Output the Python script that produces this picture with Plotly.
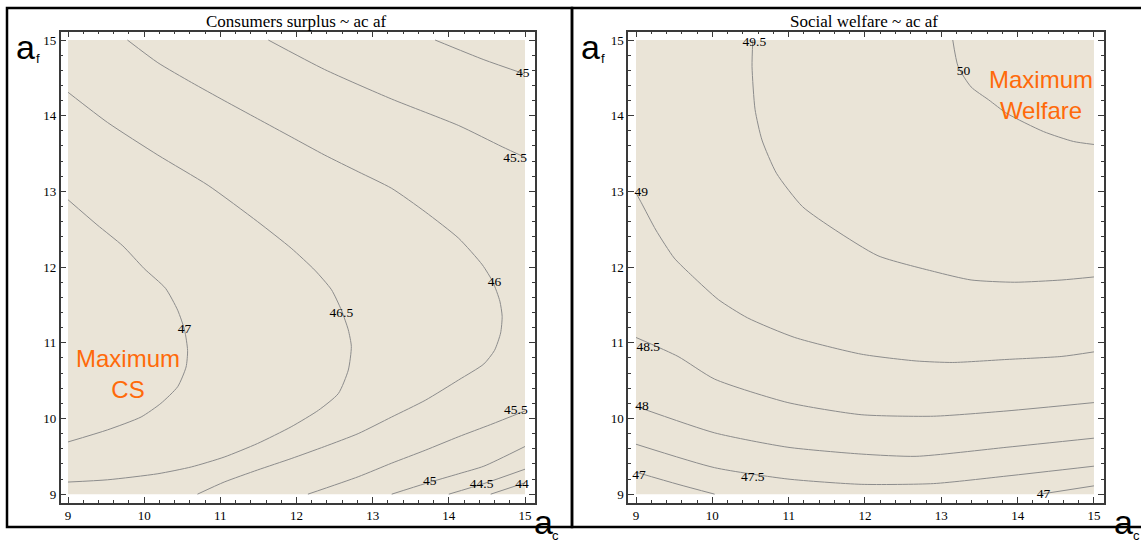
import plotly.graph_objects as go

W, H = 1141, 542

# ---------------- data ----------------
TICKS = [9, 10, 11, 12, 13, 14, 15]

# Consumers surplus contours (x = ac, y = af)
CS_47_AC = [9.0, 9.38, 9.72, 10.0, 10.28, 10.44, 10.53, 10.57, 10.55, 10.44, 10.22, 9.96, 9.52, 9.0]
CS_47_AF = [12.89, 12.56, 12.28, 11.98, 11.72, 11.43, 11.17, 10.90, 10.68, 10.42, 10.20, 10.02, 9.85, 9.69]

CS_465_AC = [9.0, 9.52, 10.18, 10.84, 11.49, 11.93, 12.24, 12.46, 12.59, 12.68, 12.72, 12.68, 12.55, 12.29,
             11.93, 11.49, 11.05, 10.62, 10.18, 9.52, 9.0]
CS_465_AF = [14.31, 13.91, 13.48, 13.08, 12.60, 12.25, 11.96, 11.70, 11.43, 11.17, 10.95, 10.64, 10.33, 10.11,
             9.89, 9.67, 9.49, 9.36, 9.27, 9.19, 9.16]

CS_46_AC = [9.78, 10.18, 10.62, 11.05, 11.49, 11.93, 12.37, 12.81, 13.25, 13.69, 14.13, 14.44, 14.58, 14.67,
            14.70, 14.68, 14.60, 14.46, 14.13, 13.69, 13.25, 12.81, 12.37, 11.93, 11.49, 11.05, 10.70]
CS_46_AF = [15.0, 14.70, 14.44, 14.20, 13.96, 13.72, 13.48, 13.26, 13.04, 12.73, 12.38, 12.03, 11.80, 11.55,
            11.35, 11.13, 10.90, 10.72, 10.51, 10.24, 10.02, 9.80, 9.63, 9.47, 9.32, 9.16, 9.0]

CS_455U_AC = [11.63, 12.37, 13.25, 14.13, 14.70, 15.0]
CS_455U_AF = [15.0, 14.61, 14.22, 13.87, 13.59, 13.45]
CS_455L_AC = [12.15, 12.81, 13.25, 13.69, 14.13, 14.55, 15.0]
CS_455L_AF = [9.0, 9.23, 9.41, 9.58, 9.76, 9.92, 10.10]

CS_45U_AC = [13.82, 14.46, 15.0]
CS_45U_AF = [15.0, 14.74, 14.55]
CS_45L_AC = [13.25, 13.69, 14.13, 14.46, 15.0]
CS_45L_AF = [9.0, 9.14, 9.27, 9.37, 9.63]

CS_445_AC = [14.0, 14.46, 15.0]
CS_445_AF = [9.0, 9.14, 9.33]
CS_44_AC = [14.55, 15.0]
CS_44_AF = [9.0, 9.15]

CS_LABELS = ["47", "46.5", "46", "45", "45.5", "45.5", "45", "44.5", "44"]
CS_LABEL_AC = [10.53, 12.59, 14.60, 14.97, 14.87, 14.88, 13.75, 14.43, 14.96]
CS_LABEL_AF = [11.17, 11.39, 11.79, 14.56, 13.43, 10.11, 9.17, 9.13, 9.12]

# Social welfare contours
SW_50_AC = [13.15, 13.22, 13.39, 13.62, 13.86, 14.34, 14.73, 15.0]
SW_50_AF = [15.0, 14.65, 14.38, 14.21, 14.03, 13.79, 13.66, 13.62]

SW_495_AC = [10.53, 10.52, 10.56, 10.65, 10.84, 11.18, 11.61, 12.17, 12.91, 13.39, 13.96, 14.58, 15.0]
SW_495_AF = [15.0, 14.65, 14.08, 13.68, 13.24, 12.80, 12.49, 12.15, 11.94, 11.83, 11.80, 11.83, 11.87]

SW_49_AC = [9.0, 9.07, 9.26, 9.5, 9.74, 10.08, 10.46, 11.08, 11.95, 12.67, 13.15, 13.86, 14.58, 15.0]
SW_49_AF = [12.98, 12.85, 12.49, 12.12, 11.88, 11.57, 11.33, 11.07, 10.85, 10.76, 10.74, 10.78, 10.82, 10.88]

SW_485_AC = [9.0, 9.55, 10.03, 10.99, 11.95, 12.9, 13.86, 15.0]
SW_485_AF = [11.07, 10.82, 10.52, 10.21, 10.05, 10.03, 10.10, 10.21]

SW_48_AC = [9.0, 10.03, 10.99, 11.95, 12.67, 13.86, 15.0]
SW_48_AF = [10.16, 9.81, 9.62, 9.53, 9.50, 9.62, 9.74]

SW_475_AC = [9.0, 10.03, 10.99, 11.95, 12.9, 13.86, 15.0]
SW_475_AF = [9.66, 9.35, 9.20, 9.13, 9.14, 9.24, 9.37]

SW_47A_AC = [9.0, 9.55, 10.03]
SW_47A_AF = [9.29, 9.13, 9.0]
SW_47B_AC = [14.30, 15.0]
SW_47B_AF = [9.0, 9.11]

SW_LABELS = ["49.5", "50", "49", "48.5", "48", "47.5", "47", "47"]
SW_LABEL_AC = [10.55, 13.29, 9.07, 9.16, 9.08, 10.53, 9.04, 14.34]
SW_LABEL_AF = [14.96, 14.58, 12.98, 10.93, 10.16, 9.22, 9.24, 9.0]

# ---------------- styling ----------------
LINE_COLOR = "#8c8c8c"
FILL = "#eae4d7"
FRAME = "#3a3a3a"
SERIF = "Liberation Serif, Times New Roman, serif"
SANS = "Liberation Sans, Arial, sans-serif"
ORANGE = "#ff6a0a"

fig = go.Figure()

cs_lines = [(CS_47_AC, CS_47_AF), (CS_465_AC, CS_465_AF), (CS_46_AC, CS_46_AF),
            (CS_455U_AC, CS_455U_AF), (CS_455L_AC, CS_455L_AF), (CS_45U_AC, CS_45U_AF),
            (CS_45L_AC, CS_45L_AF), (CS_445_AC, CS_445_AF), (CS_44_AC, CS_44_AF)]
sw_lines = [(SW_50_AC, SW_50_AF), (SW_495_AC, SW_495_AF), (SW_49_AC, SW_49_AF),
            (SW_485_AC, SW_485_AF), (SW_48_AC, SW_48_AF), (SW_475_AC, SW_475_AF),
            (SW_47A_AC, SW_47A_AF), (SW_47B_AC, SW_47B_AF)]

for xs, ys in cs_lines:
    fig.add_trace(go.Scatter(x=xs, y=ys, mode="lines", xaxis="x", yaxis="y",
                             line=dict(color=LINE_COLOR, width=1, shape="spline", smoothing=0.6),
                             hoverinfo="skip", showlegend=False))
for xs, ys in sw_lines:
    fig.add_trace(go.Scatter(x=xs, y=ys, mode="lines", xaxis="x2", yaxis="y2",
                             line=dict(color=LINE_COLOR, width=1, shape="spline", smoothing=0.6),
                             hoverinfo="skip", showlegend=False))

fig.add_trace(go.Scatter(x=CS_LABEL_AC, y=CS_LABEL_AF, text=CS_LABELS, mode="text", xaxis="x", yaxis="y",
                         textfont=dict(family=SERIF, size=13.5, color="black"), cliponaxis=False,
                         hoverinfo="skip", showlegend=False))
fig.add_trace(go.Scatter(x=SW_LABEL_AC, y=SW_LABEL_AF, text=SW_LABELS, mode="text", xaxis="x2", yaxis="y2",
                         textfont=dict(family=SERIF, size=13.5, color="black"), cliponaxis=False,
                         hoverinfo="skip", showlegend=False))


def px_x(p):
    return p / W


def px_y(p):
    return 1 - p / H


def axis(domain, rng, anchor):
    return dict(domain=domain, range=rng, anchor=anchor, tickvals=TICKS, ticktext=[str(t) for t in TICKS],
                ticks="inside", ticklen=6, tickwidth=1, tickcolor=FRAME,
                showline=True, linecolor=FRAME, linewidth=1.5, mirror="ticks",
                minor=dict(dtick=0.2, tick0=TICKS[0], ticks="inside", ticklen=3, tickcolor=FRAME, tickwidth=1),
                showgrid=False, zeroline=False,
                tickfont=dict(family=SERIF, size=13, color="black"), fixedrange=True)


lo, hi = min(TICKS), max(TICKS)
ydom = [px_y(502.5), px_y(31.7)]
fig.update_layout(
    width=W, height=H, margin=dict(l=0, r=0, t=0, b=0),
    paper_bgcolor="white", plot_bgcolor="white",
    xaxis=axis([px_x(60.7), px_x(534.9)], [8.904, 15.13], "y"),
    yaxis=axis(ydom, [8.89, 15.11], "x"),
    xaxis2=axis([px_x(628), px_x(1103.5)], [8.895, 15.125], "y2"),
    yaxis2=axis(ydom, [8.89, 15.11], "x2"),
)

shapes = [
    dict(type="rect", xref="x", yref="y", x0=lo, x1=hi, y0=lo, y1=hi, layer="below",
         fillcolor=FILL, line=dict(width=0)),
    dict(type="rect", xref="x2", yref="y2", x0=lo, x1=hi, y0=lo, y1=hi, layer="below",
         fillcolor=FILL, line=dict(width=0)),
    dict(type="rect", xref="paper", yref="paper", x0=px_x(7), x1=px_x(572), y0=px_y(527), y1=px_y(8),
         line=dict(color="black", width=2.5)),
    dict(type="rect", xref="paper", yref="paper", x0=px_x(572), x1=px_x(1150), y0=px_y(527), y1=px_y(8),
         line=dict(color="black", width=2.5)),
]
fig.update_layout(shapes=shapes)

ann = []
# titles
ann.append(dict(text="Consumers surplus ~ ac af", x=px_x(296), y=px_y(21), xref="paper", yref="paper",
                showarrow=False, font=dict(family=SERIF, size=17, color="black"), xanchor="center", yanchor="middle"))
ann.append(dict(text="Social welfare ~ ac af", x=px_x(864), y=px_y(21), xref="paper", yref="paper",
                showarrow=False, font=dict(family=SERIF, size=17, color="black"), xanchor="center", yanchor="middle"))
# orange notes
ann.append(dict(text="Maximum<br>CS", x=9.79, y=10.59, xref="x", yref="y", showarrow=False,
                font=dict(family=SANS, size=24, color=ORANGE), align="center"))
ann.append(dict(text="Maximum<br>Welfare", x=14.31, y=14.27, xref="x2", yref="y2", showarrow=False,
                font=dict(family=SANS, size=24, color=ORANGE), align="center"))
# axis letters
for ax_px, f_px in [(25, 38), (590, 603)]:
    ann.append(dict(text="a", x=px_x(ax_px), y=px_y(47), xref="paper", yref="paper", showarrow=False,
                    font=dict(family=SANS, size=34, color="black"), xanchor="center", yanchor="middle"))
    ann.append(dict(text="f", x=px_x(f_px), y=px_y(58), xref="paper", yref="paper", showarrow=False,
                    font=dict(family=SANS, size=13, color="black"), xanchor="center", yanchor="middle"))
for ax_px, c_px in [(543, 555), (1123, 1136)]:
    ann.append(dict(text="a", x=px_x(ax_px), y=px_y(522), xref="paper", yref="paper", showarrow=False,
                    font=dict(family=SANS, size=34, color="black"), xanchor="center", yanchor="middle"))
    ann.append(dict(text="c", x=px_x(c_px), y=px_y(535), xref="paper", yref="paper", showarrow=False,
                    font=dict(family=SANS, size=13, color="black"), xanchor="center", yanchor="middle"))
fig.update_layout(annotations=ann)

fig.write_html("out.html", config={"displayModeBar": False},
               post_script="document.body.style.margin='0';document.body.style.overflow='hidden';")
